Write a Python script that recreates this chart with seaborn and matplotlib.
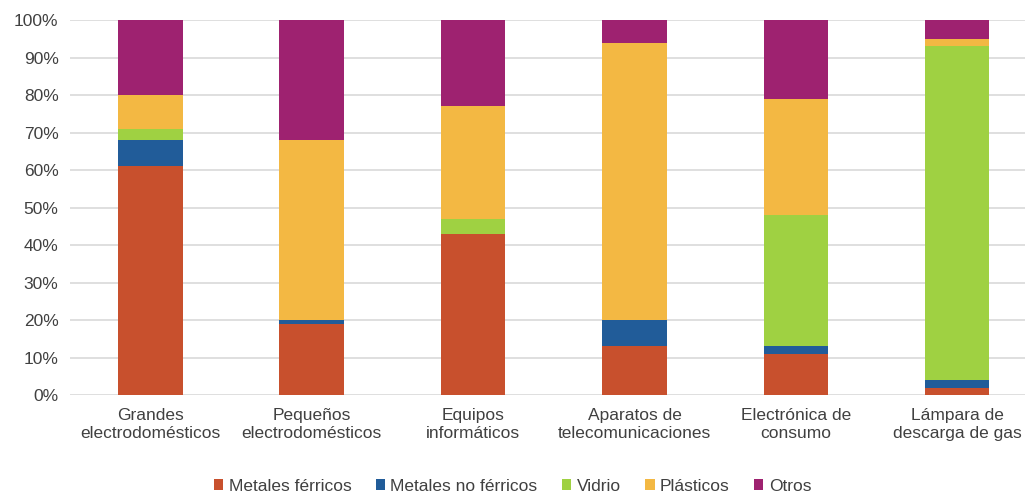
import matplotlib
matplotlib.use("Agg")
import matplotlib.pyplot as plt
import seaborn as sns
import numpy as np
import pandas as pd
from matplotlib.ticker import PercentFormatter

categories = ["Grandes\nelectrodomésticos", "Pequeños\nelectrodomésticos", "Equipos\ninformáticos",
              "Aparatos de\ntelecomunicaciones", "Electrónica de\nconsumo", "Lámpara de\ndescarga de gas"]
series_names = ["Metales férricos", "Metales no férricos", "Vidrio", "Plásticos", "Otros"]
metales_ferricos = [61, 19, 43, 13, 11, 2]
metales_no_ferricos = [7, 1, 0, 7, 2, 2]
vidrio = [3, 0, 4, 0, 35, 89]
plasticos = [9, 48, 30, 74, 31, 2]
otros = [20, 32, 23, 6, 21, 5]
colors = ["#C8502D", "#215C99", "#9FD142", "#F3B843", "#9E2270"]

sns.set_theme(style="white")
plt.rcParams['font.family'] = ['Liberation Sans', 'DejaVu Sans']

fig = plt.figure(figsize=(10.25, 4.92), dpi=100)
ax = fig.add_axes([0.068, 0.197, 0.932, 0.762])

data = [metales_ferricos, metales_no_ferricos, vidrio, plasticos, otros]
bottom = np.zeros(len(categories))
for name, vals, col in zip(series_names, data, colors):
    df = pd.DataFrame({"cat": categories, "val": vals})
    sns.barplot(data=df, x="cat", y="val", order=categories, color=col, width=0.4,
                bottom=bottom.copy(), errorbar=None, ax=ax, label=name,
                saturation=1, edgecolor="none", linewidth=0, zorder=3)
    bottom += np.array(vals)

if ax.get_legend() is not None:
    ax.get_legend().remove()

ax.set_ylim(0, 100)
ax.set_xlim(-0.5, 5.42)
ax.set_yticks(np.arange(0, 101, 10))
ax.yaxis.set_major_formatter(PercentFormatter(decimals=0))
ax.grid(axis="y", color="#D9D9D9", linewidth=1.2, zorder=0)
ax.set_axisbelow(True)
for s in ax.spines.values():
    s.set_visible(False)
ax.set_xlabel("")
ax.set_ylabel("")
ax.tick_params(axis="y", length=0, labelsize=12.5, colors="#404040", pad=8)
ax.tick_params(axis="x", length=0, labelsize=12.5, colors="#404040", pad=9)
for lbl in ax.get_xticklabels():
    lbl.set_linespacing(1.25)

handles, labels = ax.get_legend_handles_labels()
fig.legend(handles, labels, loc="lower center", bbox_to_anchor=(0.5, -0.035), ncol=5,
           frameon=False, fontsize=12.5, handlelength=0.55, handleheight=0.55,
           handletextpad=0.3, columnspacing=1.4, labelcolor="#404040")

fig.savefig("out.png", dpi=100)
